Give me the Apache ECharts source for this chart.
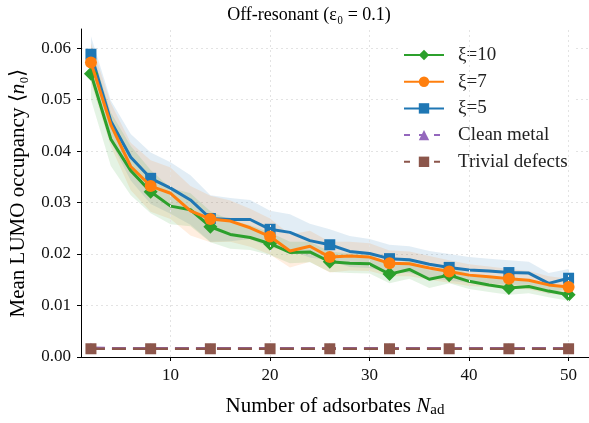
<!DOCTYPE html>
<html>
<head>
<meta charset="utf-8">
<script src="https://cdn.jsdelivr.net/npm/echarts@6/dist/echarts.min.js"></script>
<style>html,body{margin:0;padding:0;background:#fff}#c{width:589px;height:423px}</style>
</head>
<body>
<div id="c"></div>
<script>
const N = [2,4,6,8,10,12,14,16,18,20,22,24,26,28,30,32,34,36,38,40,42,44,46,48,50];
const xi5  = [0.0588,0.0458,0.0388,0.0347,0.0328,0.0305,0.0269,0.0267,0.0267,0.0248,0.0242,0.0226,0.0218,0.0205,0.0201,0.0191,0.0189,0.0180,0.0174,0.0169,0.0167,0.0164,0.0163,0.0143,0.0153];
const xi7  = [0.0572,0.0451,0.0370,0.0332,0.0318,0.0284,0.0268,0.0264,0.0251,0.0234,0.0206,0.0215,0.0194,0.0196,0.0194,0.0182,0.0181,0.0173,0.0166,0.0159,0.0156,0.0152,0.0149,0.0140,0.0136];
const xi10 = [0.0550,0.0423,0.0362,0.0321,0.0293,0.0286,0.0253,0.0238,0.0232,0.0220,0.0203,0.0204,0.0185,0.0182,0.0181,0.0161,0.0170,0.0151,0.0159,0.0147,0.0140,0.0134,0.0137,0.0128,0.0121];
const sd5  = [0.0035,0.0040,0.0045,0.0050,0.0050,0.0048,0.0045,0.0042,0.0038,0.0036,0.0035,0.0033,0.0030,0.0030,0.0028,0.0027,0.0026,0.0026,0.0026,0.0025,0.0024,0.0024,0.0022,0.0020,0.0018];
const sd7  = [0.0038,0.0042,0.0046,0.0050,0.0050,0.0048,0.0045,0.0040,0.0037,0.0035,0.0032,0.0030,0.0030,0.0028,0.0027,0.0025,0.0024,0.0023,0.0022,0.0021,0.0020,0.0019,0.0018,0.0017,0.0016];
const sd10 = [0.0050,0.0052,0.0048,0.0042,0.0035,0.0032,0.0030,0.0028,0.0024,0.0022,0.0021,0.0020,0.0020,0.0019,0.0019,0.0018,0.0018,0.0017,0.0016,0.0015,0.0014,0.0013,0.0013,0.0012,0.0012];
const cleanMetal = [0.0018,0.0017,0.0017,0.0017,0.0017,0.0017,0.0017,0.0017,0.0017,0.0017,0.0017,0.0017,0.0017,0.0017,0.0017,0.0017,0.0017,0.0017,0.0017,0.0017,0.0017,0.0017,0.0017,0.0017,0.0017];
const trivialDefects = [0.0016,0.0016,0.0016,0.0016,0.0016,0.0016,0.0016,0.0016,0.0016,0.0016,0.0016,0.0016,0.0016,0.0016,0.0016,0.0016,0.0016,0.0016,0.0016,0.0016,0.0016,0.0016,0.0016,0.0016,0.0016];
const xTicks = [10,20,30,40,50];
const yTicks = [0,0.01,0.02,0.03,0.04,0.05,0.06];

const FONT = 'Liberation Serif';
const pair = arr => N.map((x,i)=>[x,arr[i]]);
const markerSize = s => (v,p) => (p.dataIndex % 3 === 0 ? s : 0);

function band(vals, sd, color){
  return {type:'custom', coordinateSystem:'cartesian2d', silent:true, z:1,
    data:[[N[0], vals[0]]], encode:{x:0, y:1},
    renderItem:(params, api)=>{
      const pts = [];
      for (let i=0;i<N.length;i++) pts.push(api.coord([N[i], vals[i]+sd[i]]));
      for (let i=N.length-1;i>=0;i--) pts.push(api.coord([N[i], vals[i]-sd[i]]));
      return {type:'polygon', shape:{points:pts}, style:{fill:color, stroke:null}};
    }};
}
function mainLine(name, vals, color, symbol, size, z, dashed){
  return {type:'line', name:name, data:pair(vals), color:color, symbol:symbol,
    symbolSize: markerSize(size), showAllSymbol:true, z:z,
    lineStyle:{color:color, width: dashed?2.5:3, type: dashed?[14,7]:'solid'},
    itemStyle:{color:color, borderWidth:0}, emphasis:{disabled:true}};
}

const chart = echarts.init(document.getElementById('c'), null, {renderer:'canvas'});
const series = [
  band(xi5, sd5, 'rgba(31,119,180,0.13)'),
  band(xi7, sd7, 'rgba(255,127,14,0.13)'),
  band(xi10, sd10, 'rgba(44,160,44,0.13)'),
  mainLine('ξ=5', xi5, '#1f77b4', 'rect', 11, 3),
  mainLine('ξ=10', xi10, '#2ca02c', 'diamond', 14, 4),
  mainLine('ξ=7', xi7, '#ff7f0e', 'circle', 12, 5),
  mainLine('Clean metal', cleanMetal, '#9467bd', 'triangle', 10, 6, true),
  mainLine('Trivial defects', trivialDefects, '#8c564b', 'rect', 11, 7, true)
];
// vertical grid lines at the x ticks
series.push({type:'line', data:[], silent:true, z:0, markLine:{symbol:'none', silent:true, label:{show:false},
  lineStyle:{color:'#e3e3e3', type:[2,3], width:1}, data: xTicks.map(v=>({xAxis:v}))}});

chart.setOption({
  animation:false,
  backgroundColor:'#fff',
  grid:{left:78.5, top:29, right:0, bottom:60.3},
  xAxis:[{type:'value', min:1, max:52.05, position:'bottom',
    axisLine:{show:true, onZero:false, lineStyle:{color:'#000', width:1}},
    axisTick:{show:true, length:4, lineStyle:{color:'#000'}, customValues:xTicks},
    axisLabel:{color:'#111', fontFamily:FONT, fontSize:17, margin:10, customValues:xTicks},
    splitLine:{show:false},
    name:'Number of adsorbates {i|N}{s|ad}', nameLocation:'middle', nameGap:38,
    nameTextStyle:{color:'#000', fontFamily:FONT, fontSize:21,
      rich:{i:{fontFamily:FONT, fontSize:21, fontStyle:'italic', color:'#000'}, s:{fontFamily:FONT, fontSize:15, color:'#000', verticalAlign:'bottom', padding:[8,0,0,0]}}}},
   {type:'value', min:1, max:52.05, position:'top',
    axisLine:{show:true, lineStyle:{color:'#000', width:1}}, axisTick:{show:false}, axisLabel:{show:false}, splitLine:{show:false}}],
  yAxis:{type:'value', min:0, max:0.0637, interval:0.01,
    axisLine:{show:true, lineStyle:{color:'#000', width:1}},
    axisTick:{show:true, length:4, lineStyle:{color:'#000'}, customValues:yTicks},
    axisLabel:{color:'#111', fontFamily:FONT, fontSize:17, margin:10, customValues:yTicks, formatter:v=>v.toFixed(2)},
    splitLine:{show:true, lineStyle:{color:'#e3e3e3', type:[2,3], width:1}},
    name:'Mean LUMO occupancy ⟨{i|n}₀⟩', nameLocation:'middle', nameGap:52, nameRotate:90,
    nameTextStyle:{color:'#000', fontFamily:FONT, fontSize:21,
      rich:{i:{fontFamily:FONT, fontSize:21, fontStyle:'italic', color:'#000'}}}},
  legend:{data:['ξ=10','ξ=7','ξ=5',
      {name:'Clean metal', lineStyle:{type:[6,9]}},
      {name:'Trivial defects', lineStyle:{type:[6,9]}}],
    orient:'vertical', left:401, top:41, itemWidth:40, itemHeight:13, itemGap:6.7, backgroundColor:'#fff',
    padding:[4,8,4,2],
    textStyle:{color:'#222', fontFamily:FONT, fontSize:19, lineHeight:20, padding:[0,0,0,9]}},
  graphic:[{type:'text', x:309, y:15, style:{text:'Off-resonant (ε₀ = 0.1)', fill:'#000',
    font:'18px "Liberation Serif"', textAlign:'center', textVerticalAlign:'middle'}}],
  series: series
});
</script>
</body>
</html>
